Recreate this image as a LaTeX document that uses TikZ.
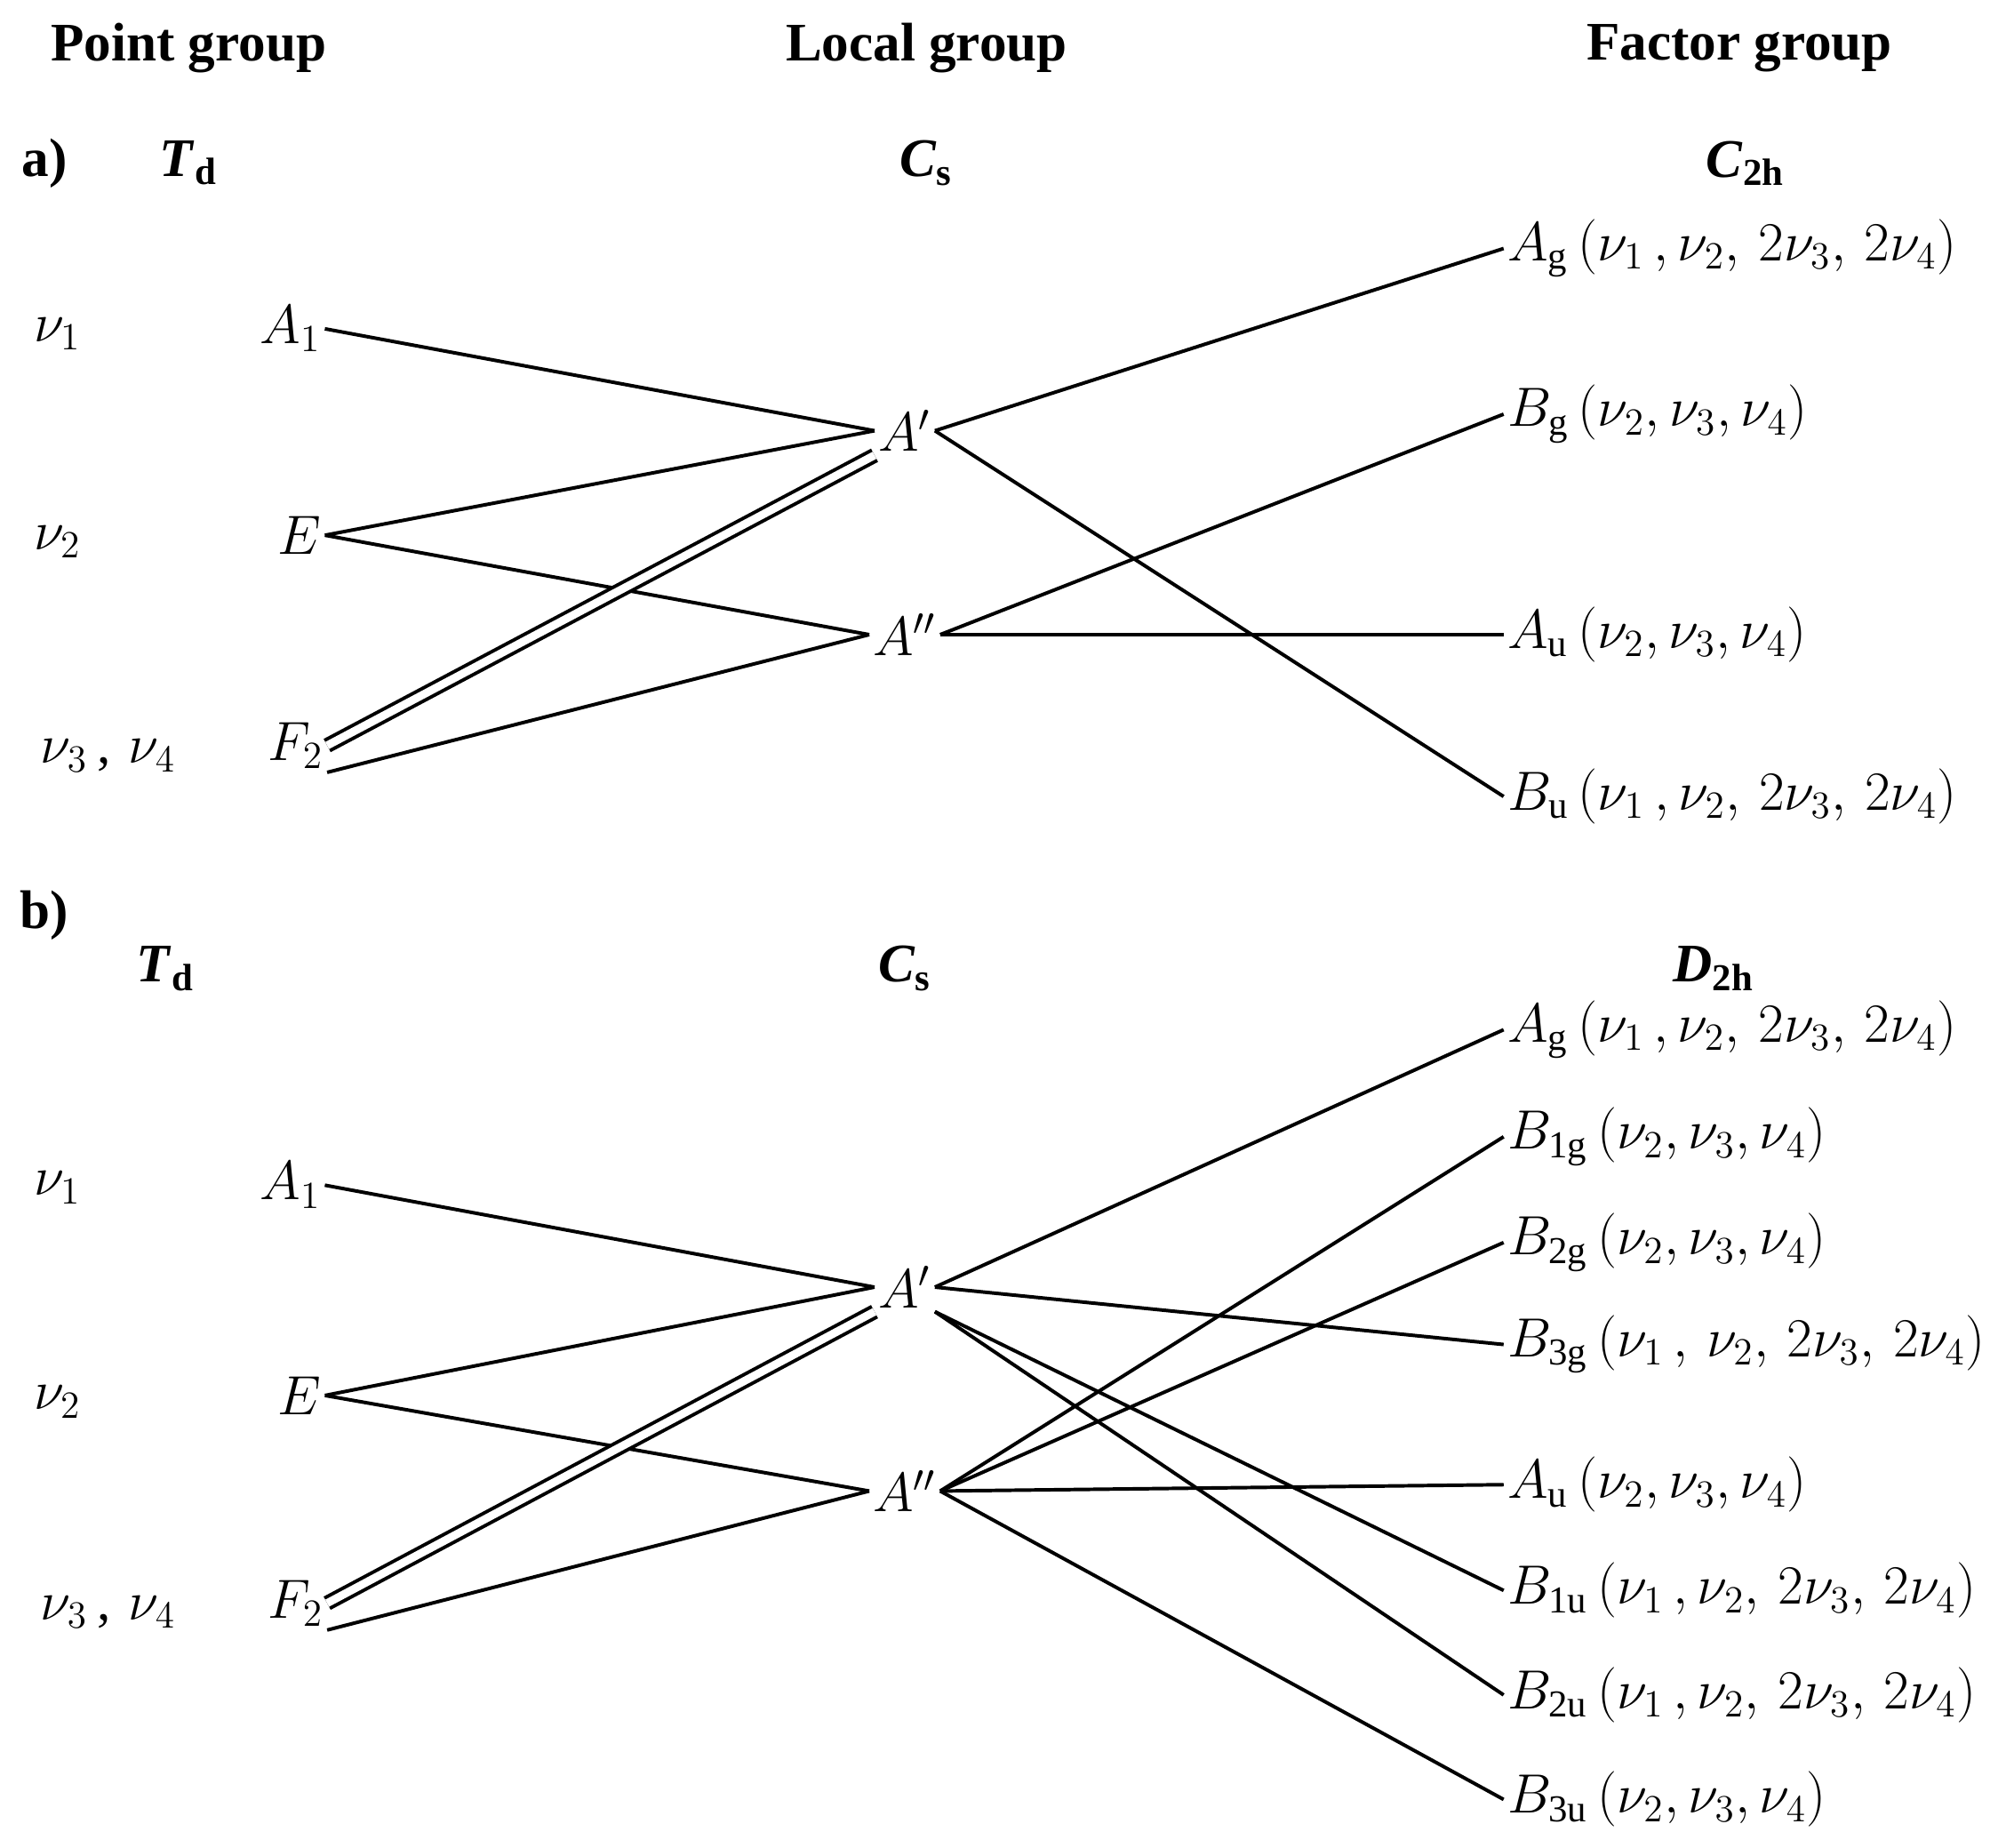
\documentclass[tikz,border=0pt]{standalone}
\usepackage{amsmath}
\usepackage{fontspec}
\setmainfont{Liberation Serif}
\usetikzlibrary{positioning}
\tikzstyle{lbl} = [inner sep=1pt, font=\fontsize{17}{20}\selectfont]
\tikzstyle{head} = [inner sep=1pt, font=\fontsize{17}{20}\selectfont\bfseries]
\tikzstyle{irr} = [lbl, anchor=west]
\tikzstyle{link} = [line width=1.1pt]
\newcommand{\bi}[2]{\textbf{\textit{#1}}\textsubscript{\textbf{#2}}}

\begin{document}
\begin{tikzpicture}[x=0.014cm,y=-0.014cm]
	  \useasboundingbox (0,0) rectangle (1568,1450);
	  % headers
	  \node [head] (hpoint) at (148,38) {Point group};
	  \node [head] (hlocal) at (727,38) {Local group};
	  \node [head] (hfactor) at (1365,38) {Factor group};
	  % part a
	  \node [head] (la) at (35,128) {a)};
	  \node [head] (tda) at (148,128) {\bi{T}{d}};
	  \node [head] (csa) at (727,128) {\bi{C}{s}};
	  \node [head] (cha) at (1370,128) {\bi{C}{2h}};
	  \node [lbl] (nua) at (45,262) {$\nu_1$};
	  \node [lbl] (nub) at (45,425) {$\nu_2$};
	  \node [lbl] (nuc) at (85,593) {$\nu_3$\,,\,\,$\nu_4$};
	  \node [lbl] (aA) at (228,258) {$A_1$};
	  \node [lbl] (aE) at (235,420) {$E$};
	  \node [lbl] (aF) at (232,585) {$F_2$};
	  \node [lbl] (ap) at (710,338) {$A'$};
	  \node [lbl] (app) at (710,498) {$A''$};
	  \node [irr] (aAg) at (1180,195) {$A_\mathrm{g}\,(\nu_1\,,\nu_2,\,2\nu_3,\,2\nu_4)$};
	  \node [irr] (aBg) at (1180,325) {$B_\mathrm{g}\,(\nu_2,\nu_3,\nu_4)$};
	  \node [irr] (aAu) at (1180,498) {$A_\mathrm{u}\,(\nu_2,\nu_3,\nu_4)$};
	  \node [irr] (aBu) at (1180,625) {$B_\mathrm{u}\,(\nu_1\,,\nu_2,\,2\nu_3,\,2\nu_4)$};
	  \draw [link] (aA.east) -- (ap.west);
	  \draw [link] (aE.east) -- (ap.west);
	  \draw [link] (aE.east) -- (app.west);
	  \draw [link, double, double distance=2.5pt] (aF.east) -- (ap.south west);
	  \draw [link] (aF.south east) -- (app.west);
	  \draw [link] (ap.east) -- (aAg.west);
	  \draw [link] (ap.east) -- (aBu.west);
	  \draw [link] (app.east) -- (aBg.west);
	  \draw [link] (app.east) -- (aAu.west);
	  % part b
	  \node [head] (lb) at (35,718) {b)};
	  \node [head] (tdb) at (130,760) {\bi{T}{d}};
	  \node [head] (csb) at (710,760) {\bi{C}{s}};
	  \node [head] (dhb) at (1345,760) {\bi{D}{2h}};
	  \node [lbl] (nud) at (45,932) {$\nu_1$};
	  \node [lbl] (nue) at (45,1100) {$\nu_2$};
	  \node [lbl] (nuf) at (85,1265) {$\nu_3$\,,\,\,$\nu_4$};
	  \node [lbl] (bA) at (228,930) {$A_1$};
	  \node [lbl] (bE) at (235,1095) {$E$};
	  \node [lbl] (bF) at (232,1258) {$F_2$};
	  \node [lbl] (bp) at (710,1010) {$A'$};
	  \node [lbl] (bpp) at (710,1170) {$A''$};
	  \node [irr] (bAg) at (1180,808) {$A_\mathrm{g}\,(\nu_1\,,\nu_2,\,2\nu_3,\,2\nu_4)$};
	  \node [irr] (bB1g) at (1180,892) {$B_\mathrm{1g}\,(\nu_2,\nu_3,\nu_4)$};
	  \node [irr] (bB2g) at (1180,975) {$B_\mathrm{2g}\,(\nu_2,\nu_3,\nu_4)$};
	  \node [irr] (bB3g) at (1180,1055) {$B_\mathrm{3g}\,(\nu_1\,,\,\nu_2,\,2\nu_3,\,2\nu_4)$};
	  \node [irr] (bAu) at (1180,1165) {$A_\mathrm{u}\,(\nu_2,\nu_3,\nu_4)$};
	  \node [irr] (bB1u) at (1180,1248) {$B_\mathrm{1u}\,(\nu_1\,,\nu_2,\,2\nu_3,\,2\nu_4)$};
	  \node [irr] (bB2u) at (1180,1330) {$B_\mathrm{2u}\,(\nu_1\,,\nu_2,\,2\nu_3,\,2\nu_4)$};
	  \node [irr] (bB3u) at (1180,1412) {$B_\mathrm{3u}\,(\nu_2,\nu_3,\nu_4)$};
	  \draw [link] (bA.east) -- (bp.west);
	  \draw [link] (bE.east) -- (bp.west);
	  \draw [link] (bE.east) -- (bpp.west);
	  \draw [link, double, double distance=2.5pt] (bF.east) -- (bp.south west);
	  \draw [link] (bF.south east) -- (bpp.west);
	  \draw [link] (bp.east) -- (bAg.west);
	  \draw [link] (bp.east) -- (bB3g.west);
	  \draw [link] (bp.south east) -- (bB1u.west);
	  \draw [link] (bp.south east) -- (bB2u.west);
	  \draw [link] (bpp.east) -- (bB1g.west);
	  \draw [link] (bpp.east) -- (bB2g.west);
	  \draw [link] (bpp.east) -- (bAu.west);
	  \draw [link] (bpp.east) -- (bB3u.west);
	\end{tikzpicture}
\end{document}
